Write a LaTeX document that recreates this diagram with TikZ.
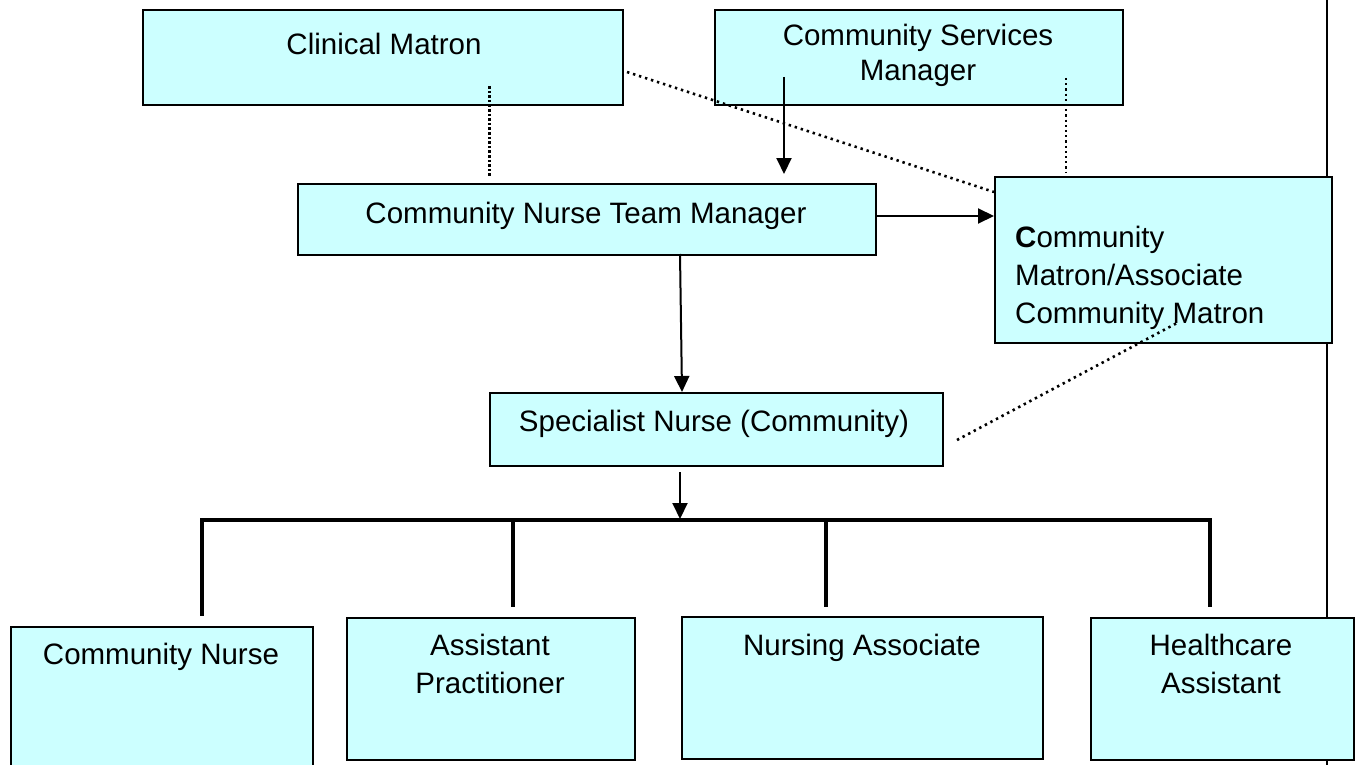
\documentclass[tikz,border=0pt]{standalone}
\usepackage{fontspec}
\setmainfont{Liberation Sans}
\usetikzlibrary{arrows.meta}
\definecolor{boxfill}{HTML}{CCFFFF}
\begin{document}
\begin{tikzpicture}[x=1pt,y=-1pt,
  box/.style={draw=black, line width=1.6pt, fill=boxfill, inner sep=0pt, anchor=north west},
  lbl/.style={inner sep=0pt, font=\fontsize{29.5}{38}\selectfont, align=center},
  arr/.style={line width=2pt, -{Triangle[width=15pt,length=16pt]}},
  dotline/.style={line width=2.6pt, dash pattern=on 2.4pt off 3.9pt},
  vdotline/.style={line width=3pt, dash pattern=on 2.6pt off 2pt},
  busline/.style={line width=4pt},
  dropline/.style={line width=3.5pt},
  sideline/.style={line width=2.6pt}]
\useasboundingbox (0,0) rectangle (1359,765);
\fill[white] (0,0) rectangle (1359,765);

% right side line (behind boxes)
\coordinate (rtop) at (1327,0);
\coordinate (rbot) at (1327,765);
\draw[sideline] (rtop) -- (rbot);

% boxes
\node[box, minimum width=480pt, minimum height=95pt] (cm) at (142,9) {};
\node[box, minimum width=408pt, minimum height=95pt] (csm) at (714,9) {};
\node[box, minimum width=578pt, minimum height=71pt] (cntm) at (297,183) {};
\node[box, minimum width=337pt, minimum height=166pt] (cmat) at (994,176) {};
\node[box, minimum width=453pt, minimum height=73pt] (sn) at (489,392) {};
\node[box, minimum width=302pt, minimum height=150pt] (cn) at (10,626) {};
\node[box, minimum width=288pt, minimum height=142pt] (ap) at (346,617) {};
\node[box, minimum width=361pt, minimum height=142pt] (na) at (681,616) {};
\node[box, minimum width=263pt, minimum height=142pt] (ha) at (1090,617) {};

% texts (base anchor = baseline of last line)
\node[lbl, anchor=base] (cmt) at (384,55) {Clinical Matron};
\node[lbl, anchor=base, font=\fontsize{29.5}{35}\selectfont] (csmt) at (918,81) {Community Services\\Manager};
\node[lbl, anchor=base] (cntmt) at (586,223) {Community Nurse Team Manager};
\node[lbl, anchor=base west, align=left] (cmatt) at (1015,323) {\textbf{C}ommunity\\Matron/Associate\\Community Matron};
\node[lbl, anchor=base] (snt) at (714,431) {Specialist Nurse (Community)};
\node[lbl, anchor=base] (cnt) at (161,664) {Community Nurse};
\node[lbl, anchor=base] (apt) at (490,693) {Assistant\\Practitioner};
\node[lbl, anchor=base] (nat) at (862,655) {Nursing Associate};
\node[lbl, anchor=base] (hat) at (1221,693) {Healthcare\\Assistant};

% connector end points
\coordinate (d1a) at (489,86);
\coordinate (d1b) at (489,176);
\coordinate (a1a) at (784,77);
\coordinate (a1b) at (784,174);
\coordinate (d2a) at (1066,78);
\coordinate (d2b) at (1066,172);
\coordinate (dga) at (627,72);
\coordinate (dgb) at (994,192);
\coordinate (a3a) at (680,254);
\coordinate (a3b) at (682,392);
\coordinate (a4a) at (680,472);
\coordinate (a4b) at (680,519);
\coordinate (dsa) at (957,440);
\coordinate (dsb) at (1177,323);
\coordinate (busl) at (202,520);
\coordinate (busr) at (1210,520);
\coordinate (b1) at (202,616);
\coordinate (b2t) at (513,520);
\coordinate (b2) at (513,607);
\coordinate (b3t) at (826,520);
\coordinate (b3) at (826,607);
\coordinate (b4) at (1210,607);

% connectors
\draw[vdotline] (d1a) -- (d1b);
\draw[arr] (a1a) -- (a1b);
\draw[line width=2.2pt, dash pattern=on 2.2pt off 3pt] (d2a) -- (d2b);
\draw[dotline] (dga) -- (dgb);
\draw[arr] (cntm.east |- 0,216) -- (cmat.west |- 0,216);
\draw[arr] (a3a) -- (a3b);
\draw[arr] (a4a) -- (a4b);
\draw[dotline] (dsa) -- (dsb);
\draw[busline, line cap=rect] (busl) -- (busr);
\draw[dropline] (busl) -- (b1);
\draw[dropline] (b2t) -- (b2);
\draw[dropline] (b3t) -- (b3);
\draw[dropline] (busr) -- (b4);
\end{tikzpicture}
\end{document}
